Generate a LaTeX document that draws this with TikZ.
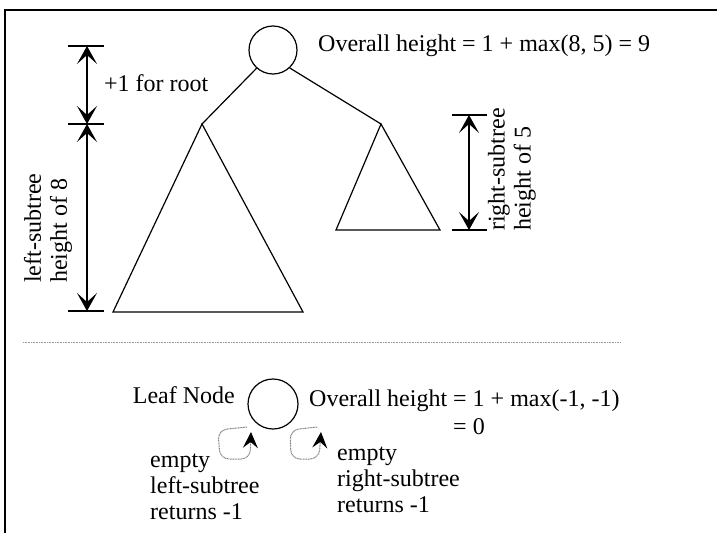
\documentclass[tikz,border=0pt]{standalone}
\usepackage{fontspec}
\setmainfont{Liberation Serif}
\usetikzlibrary{arrows.meta}
\begin{document}
\begin{tikzpicture}[x=1pt,y=-1pt,
  txt/.style={font=\fontsize{24}{26}\selectfont, inner sep=0pt},
  ln/.style={line width=1.2pt},
  dimtip/.tip={Stealth[length=18pt,width=20pt,inset=9pt]},
  dim/.style={ln, dimtip-dimtip},
  treenode/.style={circle, draw, line width=1.2pt, inner sep=0pt},
  selfloop/.style={dash pattern=on 1pt off 0.6pt, gray, line width=1pt,
    -{Stealth[length=16pt,width=15pt,inset=6pt,color=black]}}
]
\useasboundingbox (0,0) rectangle (717,533);

% frame
\draw[line width=2pt] (5,533) -- (5,10) -- (717,10);

% --- upper part: tree with subtrees ---
\node[treenode, minimum size=48pt] (root) at (273,50) {};
\coordinate (lapex) at (202,124);
\coordinate (rapex) at (381,124);
\draw[ln] (root.228) -- (lapex);
\draw[ln] (root.-47) -- (rapex);
\draw[ln] (lapex) -- (113,312) -- (303,312) -- cycle;
\draw[ln] (rapex) -- (336,230) -- (440,230) -- cycle;

\node[txt, anchor=west] (overall) at (318,46) {Overall height = 1 + max(8, 5) = 9};

% left dimension
\coordinate (dt) at (87,46);
\coordinate (dm) at (87,124);
\coordinate (db) at (87,311);
\draw[ln] (68,46) -- (104,46);
\draw[ln] (68,124) -- (104,124);
\draw[ln] (68,311) -- (104,311);
\draw[dim] (dt) -- (dm);
\draw[dim] (dm) -- (db);
\node[txt, anchor=west] (plusone) at (104,83) {+1 for root};
\node[txt, rotate=90, anchor=west, align=left] (lefth) at (48,283) {left-subtree\\height of 8};

% right dimension
\coordinate (rt) at (469,115);
\coordinate (rb) at (469,230);
\draw[ln] (452,115) -- (487,115);
\draw[ln] (452,230) -- (487,230);
\draw[dim] (rt) -- (rb);
\node[txt, rotate=90, anchor=west, align=left] (righth) at (512,231) {right-subtree\\height of 5};

% separator
\draw[gray!80, line width=0.8pt, dash pattern=on 0.8pt off 0.8pt] (23,342) -- (620,342);

% --- lower part: leaf node ---
\node[treenode, minimum size=50pt] (leaf) at (273,404) {};
\node[txt, anchor=east] (leaflbl) at (235,395) {Leaf Node};
\node[txt, anchor=west] (leafh) at (309,401) {Overall height = 1 + max(-1, -1)};
\node[txt] (leafz) at (469,427) {= 0};

\coordinate (ltip) at (251,432);
\coordinate (rtip) at (321,432);
\draw[selfloop, rounded corners=9pt] (247,427) -- (218,430) -- (220,459) -- (250,459) -- (ltip);
\draw[selfloop, rounded corners=9pt] (317,427) -- (290,430) -- (291,459) -- (319,459) -- (rtip);

\node[txt, anchor=west, align=left] (emptyl) at (150,487) {empty\\left-subtree\\returns -1};
\node[txt, anchor=west, align=left] (emptyr) at (337,480) {empty\\right-subtree\\returns -1};

\end{tikzpicture}
\end{document}
